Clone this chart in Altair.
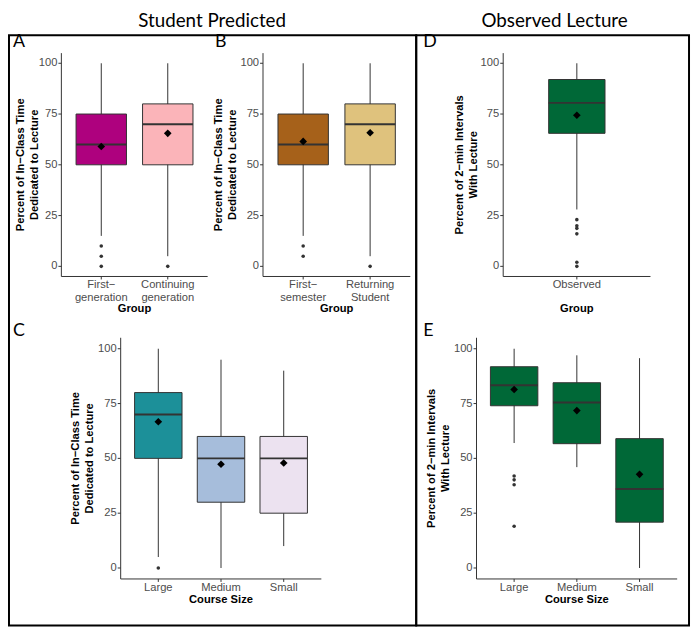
import altair as alt
import pandas as pd

# ---------------- data ----------------
# Panel A: first-generation status
a_groups = ["First−|generation", "Continuing|generation"]
a_low = [15, 5]
a_q1 = [50, 50]
a_med = [60, 70]
a_q3 = [75, 80]
a_high = [100, 100]
a_mean = [59.0, 65.5]
a_out_group = ["First−|generation", "First−|generation", "First−|generation", "Continuing|generation"]
a_out_val = [10, 5, 0, 0]
a_colors = ["#ae017e", "#fbb4b9"]

# Panel B: semester status
b_groups = ["First−|semester", "Returning|Student"]
b_low = [15, 5]
b_q1 = [50, 50]
b_med = [60, 70]
b_q3 = [75, 80]
b_high = [100, 100]
b_mean = [61.5, 65.8]
b_out_group = ["First−|semester", "First−|semester", "Returning|Student"]
b_out_val = [10, 5, 0]
b_colors = ["#a6611a", "#dfc27d"]

# Panel C: course size (student predicted)
c_groups = ["Large", "Medium", "Small"]
c_low = [5, 0, 10]
c_q1 = [50, 30, 25]
c_med = [70, 50, 50]
c_q3 = [80, 60, 60]
c_high = [100, 95, 90]
c_mean = [66.7, 47.3, 47.9]
c_out_group = ["Large"]
c_out_val = [0]
c_colors = ["#1c9099", "#a6bddb", "#ece2f0"]

# Panel D: observed lecture
d_groups = ["Observed"]
d_low = [28]
d_q1 = [65.5]
d_med = [80.5]
d_q3 = [92]
d_high = [100]
d_mean = [74.4]
d_out_group = ["Observed"] * 6
d_out_val = [23, 20, 18.7, 16, 2, 0]
d_colors = ["#006837"]

# Panel E: course size (observed)
e_groups = ["Large", "Medium", "Small"]
e_low = [57, 46, 0]
e_q1 = [74, 56.7, 20.9]
e_med = [83.4, 75.5, 36]
e_q3 = [91.8, 84.5, 59]
e_high = [100, 97, 95.7]
e_mean = [81.4, 71.8, 42.7]
e_out_group = ["Large", "Large", "Large", "Large"]
e_out_val = [42, 40.2, 38, 19]
e_colors = ["#006837", "#006837", "#006837"]

y_ticks = [0, 25, 50, 75, 100]
y_tick_labels = ["0", "25", "50", "75", "100"]
Y_TITLE_PRED = "Percent of In−Class Time|Dedicated to Lecture"
Y_TITLE_OBS = "Percent of 2−min Intervals|With Lecture"

GREY = "#333333"
LABEL_GREY = "#4d4d4d"
FONT = "Liberation Sans"
LETTER_FONT = "Lato"
FS = 11.3
ONE = pd.DataFrame({"a": [0]})

W, H = 691, 622   # whole drawing (page minus the 8px body margin)


def txt(s, x, y, **kw):
    return alt.Chart(ONE).mark_text(**kw).encode(
        x=alt.value(x), y=alt.value(y), text=alt.value(s))


def rule(x1, x2, y1, y2, **kw):
    return alt.Chart(ONE).mark_rule(**kw).encode(
        x=alt.value(x1), x2=alt.value(x2), y=alt.value(y1), y2=alt.value(y2))


def panel(groups, low, q1, med, q3, high, mean, out_g, out_v, colors,
          x0, y0, w, h, box, xtitle, ytitle, ytitle_x, xtitle_y,
          letter, letter_x, letter_y):
    stats = pd.DataFrame(dict(g=groups, low=low, q1=q1, med=med, q3=q3,
                              high=high, mean=mean, fill=colors))
    outs = pd.DataFrame(dict(g=out_g, v=out_v))
    ticks = pd.DataFrame(dict(t=y_ticks, lab=y_tick_labels))
    xscale = alt.Scale(type="point", padding=0.6, domain=groups, range=[x0, x0 + w])
    yscale = alt.Scale(domain=[-5, 105], nice=False, zero=False, range=[y0 + h, y0])
    xn = alt.X("g:N", scale=xscale, axis=None)

    def yq(f):
        return alt.Y(f, scale=yscale, axis=None)

    base = alt.Chart(stats)
    whisk = base.mark_rule(color=GREY, strokeWidth=1).encode(
        x=xn, y=yq("low:Q"), y2="high:Q")
    boxm = base.mark_bar(size=box, stroke=GREY, strokeWidth=1, opacity=1).encode(
        x=xn, y=yq("q1:Q"), y2="q3:Q", color=alt.Color("fill:N", scale=None))
    medm = base.mark_tick(color=GREY, thickness=2, size=box, orient="horizontal",
                          opacity=1).encode(x=xn, y=yq("med:Q"))
    outm = alt.Chart(outs).mark_circle(color=GREY, size=13, opacity=1).encode(
        x=xn, y=yq("v:Q"))
    meanm = base.mark_point(shape="diamond", filled=True, color="black",
                            size=60, opacity=1).encode(x=xn, y=yq("mean:Q"))
    # axes drawn as marks
    yline = rule(x0, x0, y0, y0 + h, color=GREY, strokeWidth=1)
    xline = rule(x0, x0 + w, y0 + h, y0 + h, color=GREY, strokeWidth=1)
    yticks = alt.Chart(ticks).mark_rule(color=GREY, strokeWidth=1).encode(
        x=alt.value(x0 - 3), x2=alt.value(x0), y=yq("t:Q"))
    ylabels = alt.Chart(ticks).mark_text(align="right", baseline="middle",
                                         font=FONT, fontSize=FS).encode(
        x=alt.value(x0 - 4), y=yq("t:Q"), text="lab:N",
        fill=alt.value(LABEL_GREY))
    xticks = base.mark_rule(color=GREY, strokeWidth=1).encode(
        x=xn, y=alt.value(y0 + h), y2=alt.value(y0 + h + 3))
    xlabels = base.mark_text(lineBreak="|", baseline="top", align="center",
                             font=FONT, fontSize=FS, color=LABEL_GREY,
                             fill=LABEL_GREY, lineHeight=12.5).encode(
        x=xn, y=alt.value(y0 + h + 3), text="g:N")
    ytitle_m = txt(ytitle, ytitle_x - 7, y0 + h / 2, angle=270, lineBreak="|",
                   align="center", baseline="middle", font=FONT, fontSize=FS,
                   fontWeight="bold", color="black", lineHeight=14)
    xtitle_m = txt(xtitle, x0 + w / 2, xtitle_y, align="center", baseline="middle",
                   font=FONT, fontSize=FS, fontWeight="bold", color="black")
    letter_m = txt(letter, letter_x, letter_y, align="left", baseline="alphabetic",
                   font=LETTER_FONT, fontSize=18, color="black")
    return [whisk, boxm, medm, outm, meanm, yline, xline, yticks, ylabels,
            xticks, xlabels, ytitle_m, xtitle_m, letter_m]


def border(x1, x2, y1, y2):
    return alt.Chart(ONE).mark_rect(
        fillOpacity=0, stroke="black", strokeWidth=2).encode(
        x=alt.value(x1), x2=alt.value(x2), y=alt.value(y1), y2=alt.value(y2))


HT, HB = 226, 244
TOP, BOT = 42, 330

layers = []
layers += panel(a_groups, a_low, a_q1, a_med, a_q3, a_high, a_mean, a_out_group,
                a_out_val, a_colors, 54, TOP, 148, HT, 51, "Group", Y_TITLE_PRED,
                20, 301, "A", 5, 36)
layers += panel(b_groups, b_low, b_q1, b_med, b_q3, b_high, b_mean, b_out_group,
                b_out_val, b_colors, 258, TOP, 149, HT, 51, "Group", Y_TITLE_PRED,
                221, 301, "B", 209.5, 36)
layers += panel(d_groups, d_low, d_q1, d_med, d_q3, d_high, d_mean, d_out_group,
                d_out_val, d_colors, 501, TOP, 149, HT, 57, "Group", Y_TITLE_OBS,
                464, 301, "D", 420, 36)
layers += panel(c_groups, c_low, c_q1, c_med, c_q3, c_high, c_mean, c_out_group,
                c_out_val, c_colors, 114, BOT, 203, HB, 48, "Course Size",
                Y_TITLE_PRED, 75.5, 595, "C", 5, 328)
layers += panel(e_groups, e_low, e_q1, e_med, e_q3, e_high, e_mean, e_out_group,
                e_out_val, e_colors, 474, BOT, 203, HB, 48, "Course Size",
                Y_TITLE_OBS, 436.5, 595, "E", 420, 328)

sec = dict(align="center", baseline="middle", font=LETTER_FONT, fontSize=19,
           color="black")
layers += [border(1, 413, 24, 621), border(413, 689, 24, 621),
           txt("Student Predicted", 206.5, 9.5, **sec),
           txt("Observed Lecture", 553, 9.5, **sec)]

chart = alt.layer(*layers).resolve_scale(
    x="independent", y="independent"
).properties(
    width=W, height=H, padding=0, background="white",
    autosize=alt.AutoSizeParams(type="none")
).configure_view(stroke="transparent", strokeWidth=0)

chart.save("out.html", embed_options={"renderer": "svg", "actions": False})
